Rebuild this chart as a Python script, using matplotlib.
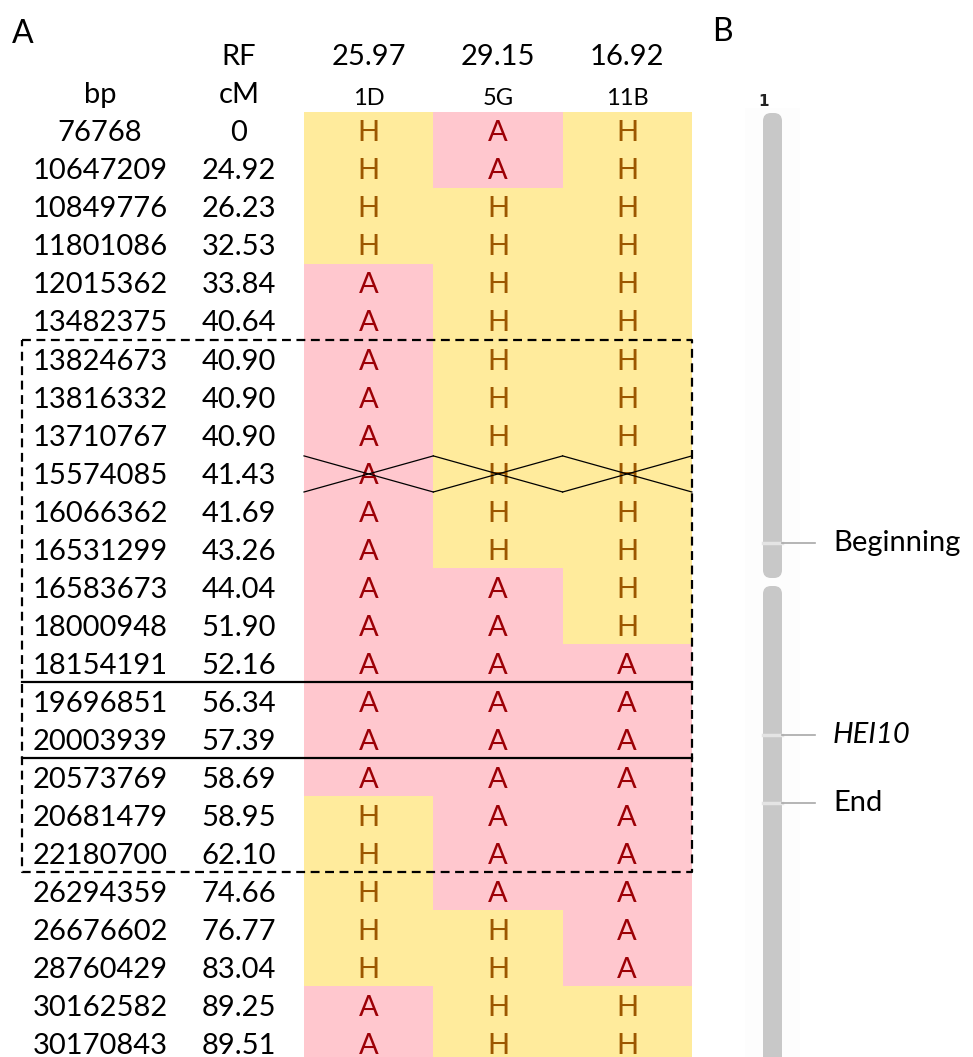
import matplotlib.pyplot as plt
from matplotlib.patches import Rectangle, FancyBboxPatch

# ---- data ----
bp = [76768, 10647209, 10849776, 11801086, 12015362, 13482375, 13824673,
      13816332, 13710767, 15574085, 16066362, 16531299, 16583673, 18000948,
      18154191, 19696851, 20003939, 20573769, 20681479, 22180700, 26294359,
      26676602, 28760429, 30162582, 30170843]
cm = ['0', '24.92', '26.23', '32.53', '33.84', '40.64', '40.90', '40.90',
      '40.90', '41.43', '41.69', '43.26', '44.04', '51.90', '52.16', '56.34',
      '57.39', '58.69', '58.95', '62.10', '74.66', '76.77', '83.04', '89.25',
      '89.51']
samples = ['1D', '5G', '11B']
rf = ['25.97', '29.15', '16.92']
geno_1D = list('HHHHAAAAAAAAAAAAAAHHHHHAA')
geno_5G = list('AAHHHHHHHHHHAAAAAAAAAHHHH')
geno_11B = list('HHHHHHHHHHHHHHAAAAAAAAAHH')
crossover_row = 9          # marker drawn crossed out
dashed_rows = (6, 19)      # dashed box region
solid_rows = (15, 16)      # solid box region

chrom_name = '1'
marker_names = ['Beginning', 'HEI10', 'End']
marker_pos = [543, 735, 803]   # position along the chromosome image (px)
marker_italic = [False, True, False]

# ---- style ----
W, H = 973, 1057
FONT = 'Lato'
FS = 21
fill = {'H': '#FFEB9C', 'A': '#FFC7CE'}
txt = {'H': '#9C5700', 'A': '#9C0006'}

fig = plt.figure(figsize=(W / 100, H / 100), dpi=100)
ax = fig.add_axes([0, 0, 1, 1])
ax.set_xlim(0, W)
# y is in row units: row i is centred at pixel 131 + 38 i
row0, rowh = 131, 38
ax.set_ylim((H - row0) / rowh, -row0 / rowh)
ax.axis('off')

x_bp, x_cm = 100, 239
col_left, col_w = 304, 129.3
genos = [geno_1D, geno_5G, geno_11B]
VA = 'center_baseline'

# headers
ax.text(x_cm, -2, 'RF', ha='center', va=VA, fontsize=FS, family=FONT)
ax.text(x_bp, -1, 'bp', ha='center', va=VA, fontsize=FS, family=FONT)
ax.text(x_cm, -1, 'cM', ha='center', va=VA, fontsize=FS, family=FONT)
for j, (s, r) in enumerate(zip(samples, rf)):
    xc = col_left + col_w * (j + 0.5)
    ax.text(xc, -2, r, ha='center', va=VA, fontsize=FS, family=FONT)
    ax.text(xc, -0.9, s, ha='center', va=VA, fontsize=17, family=FONT)

# table body
for i in range(len(bp)):
    ax.text(x_bp, i, str(bp[i]), ha='center', va=VA, fontsize=FS, family=FONT)
    ax.text(x_cm, i, cm[i], ha='center', va=VA, fontsize=FS, family=FONT)
    for j, g in enumerate(genos):
        x0 = col_left + col_w * j
        ax.add_patch(Rectangle((x0, i - 0.5), col_w, 1, facecolor=fill[g[i]],
                               edgecolor='none', zorder=1))
        ax.text(x0 + col_w / 2, i, g[i], ha='center', va=VA, fontsize=FS,
                color=txt[g[i]], family=FONT, zorder=2)

# crossed out row
for j in range(len(genos)):
    x0 = col_left + col_w * j
    r = crossover_row
    ax.plot([x0, x0 + col_w], [r - 0.45, r + 0.5], color='black', lw=0.9, zorder=3)
    ax.plot([x0, x0 + col_w], [r + 0.5, r - 0.45], color='black', lw=0.9, zorder=3)

# dashed box
bx0, bx1 = 22, col_left + col_w * 3
ya, yb = dashed_rows[0] - 0.5, dashed_rows[1] + 0.5
ax.plot([bx0, bx1, bx1, bx0, bx0], [ya, ya, yb, yb, ya], color='black', lw=1.6,
        ls=(0, (4, 2.5)), zorder=4)
for y in (solid_rows[0] - 0.5, solid_rows[1] + 0.5):
    ax.plot([bx0, bx1], [y, y], color='black', lw=1.6, zorder=4)

# panel letters
ax.text(12, -2.55, 'A', ha='left', va='center', fontsize=23, family=FONT)
ax.text(712, -2.6, 'B', ha='left', va='center', fontsize=23, family=FONT)

# ---- panel B: chromosome ----
axb = fig.add_axes([0, 0, 1, 1], zorder=-1)
axb.set_xlim(0, W)
axb.set_ylim(H, 0)
axb.axis('off')
axb.add_patch(Rectangle((745, 108), 55, H, facecolor='#fdfdfd', edgecolor='none'))
cx, cw = 763, 19
axb.add_patch(FancyBboxPatch((cx, 113), cw, 578 - 113, boxstyle='round,pad=0,rounding_size=8',
                             facecolor='#c8c8c8', edgecolor='none'))
axb.add_patch(FancyBboxPatch((cx, 586), cw, H + 40 - 586, boxstyle='round,pad=0,rounding_size=8',
                             facecolor='#c8c8c8', edgecolor='none'))
axb.text(cx + 0.5, 102, chrom_name, ha='center', va='center', fontsize=11,
         fontweight='bold', family='DejaVu Sans', color='#222222')
for name, y, it in zip(marker_names, marker_pos, marker_italic):
    axb.plot([cx, cx + cw], [y, y], color='#e4e4e4', lw=2.5)
    axb.plot([cx + cw, 815], [y, y], color='#a8a8a8', lw=1.2)
    axb.text(833, y, name, ha='left', va='center', fontsize=21, family=FONT,
             style='italic' if it else 'normal')

fig.savefig('out.png', dpi=100)
